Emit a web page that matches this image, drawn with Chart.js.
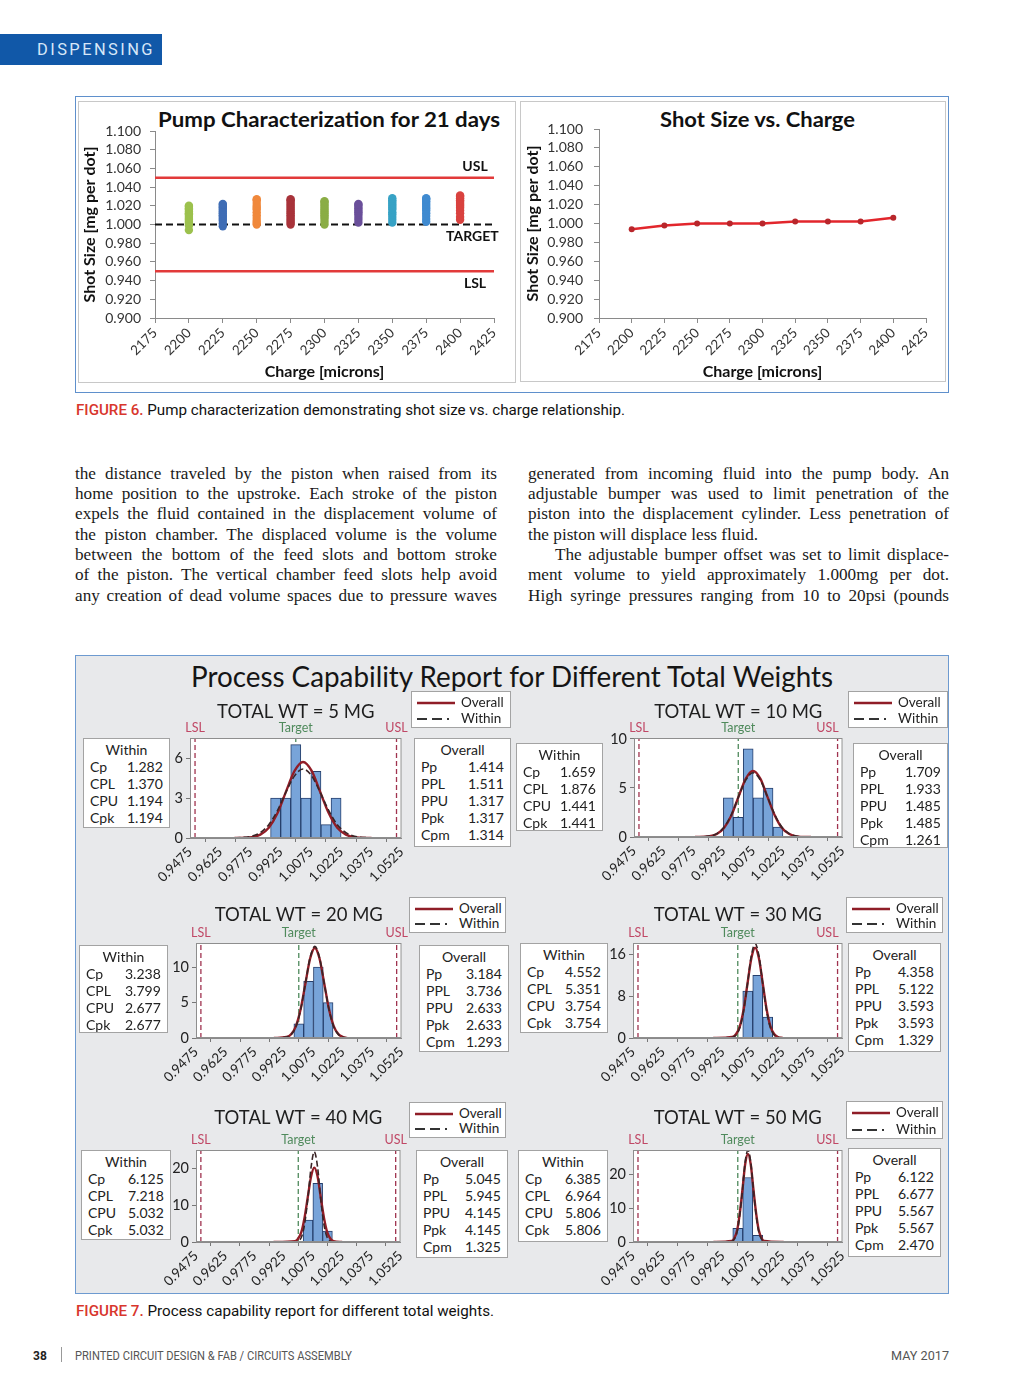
<!DOCTYPE html>
<html>
<head>
<meta charset="utf-8">
<title>Dispensing - shot size and process capability</title>
<script src="https://cdn.jsdelivr.net/npm/chart.js@4.4.1/dist/chart.umd.min.js"></script>
<style>
  body { margin: 0; background: #fff; }
  #page { position: relative; width: 1024px; height: 1392px; overflow: hidden; font-family: Roboto, sans-serif; color: #111; }
  .abs { position: absolute; }
  .fit { position: absolute; white-space: nowrap; }
  .fit span { display: inline-block; transform-origin: 0 50%; }
  .body-col { position: absolute; font: 17.2px "Liberation Serif", serif; line-height: 20.33px; color: #1a1a1a; }
  .body-col div { text-align: justify; text-align-last: justify; height: 20.33px; }
  .body-col div.last { text-align-last: left; }
  .box { position: absolute; background: #fff; border: 1px solid #a3a3a3; box-sizing: border-box; font: 14px Lato, sans-serif; color: #222; }
  .box .t { position: absolute; left: 0; right: 0; text-align: center; line-height: 18px; }
  .box .r { position: absolute; left: 6px; right: 6px; display: flex; justify-content: space-between; line-height: 18px; }
  .box .r span:last-child { width: 36px; text-align: left; }
  .leg { position: absolute; background: #fff; border: 1px solid #a3a3a3; box-sizing: border-box; font: 13.5px Lato, sans-serif; color: #222; }
  .leg .row { position: absolute; left: 4px; height: 17px; line-height: 17px; display: flex; align-items: center; }
  .leg svg { margin-right: 5px; }
</style>
</head>
<body>
<div id="page">
  <div class="abs" style="left:0;top:34px;width:162px;height:31px;background:#1158a8;"></div>
  <div class="fit" id="tabText" style="left:37px;top:40px;font:16px Roboto;color:#d7e7f8;letter-spacing:2.4px;line-height:19px;"><span>DISPENSING</span></div>

  <!-- Figure 6 -->
  <div class="abs" style="left:75px;top:96px;width:874px;height:297px;border:1.5px solid #5f90cc;box-sizing:border-box;background:#fff;"></div>
  <div class="abs" style="left:78px;top:101px;width:438px;height:282px;border:1px solid #c8c8c8;box-sizing:border-box;"></div>
  <div class="abs" style="left:520px;top:101px;width:426px;height:281px;border:1px solid #c8c8c8;box-sizing:border-box;"></div>
  <div class="fit" id="t6a" style="left:158px;top:106px;font:bold 21px Lato;line-height:25px;color:#111;"><span>Pump Characterization for 21 days</span></div>
  <div class="fit" id="t6b" style="left:660px;top:106px;font:bold 21px Lato;line-height:25px;color:#111;"><span>Shot Size vs. Charge</span></div>

  <div class="fit" id="cap6" style="left:76px;top:401px;font:14px Roboto;line-height:18px;"><span><b style="color:#d8362c;font-weight:500">FIGURE 6.</b> Pump characterization demonstrating shot size vs. charge relationship.</span></div>

  <div class="body-col" style="left:75px;top:463.8px;width:422px;">
    <div>the distance traveled by the piston when raised from its</div>
    <div>home position to the upstroke. Each stroke of the piston</div>
    <div>expels the fluid contained in the displacement volume of</div>
    <div>the piston chamber. The displaced volume is the volume</div>
    <div>between the bottom of the feed slots and bottom stroke</div>
    <div>of the piston. The vertical chamber feed slots help avoid</div>
    <div>any creation of dead volume spaces due to pressure waves</div>
  </div>
  <div class="body-col" style="left:528px;top:463.8px;width:421px;">
    <div>generated from incoming fluid into the pump body. An</div>
    <div>adjustable bumper was used to limit penetration of the</div>
    <div>piston into the displacement cylinder. Less penetration of</div>
    <div class="last">the piston will displace less fluid.</div>
    <div style="padding-left:27px;">The adjustable bumper offset was set to limit displace-</div>
    <div>ment volume to yield approximately 1.000mg per dot.</div>
    <div>High syringe pressures ranging from 10 to 20psi (pounds</div>
  </div>

  <!-- Figure 7 -->
  <div class="abs" style="left:75px;top:655px;width:874px;height:639px;border:1.5px solid #6d9ad0;box-sizing:border-box;background:#e8e9eb;"></div>
  <div class="fit" id="t7" style="left:191px;top:659px;font:29px Lato;line-height:34px;color:#151515;"><span>Process Capability Report for Different Total Weights</span></div>

  <div class="fit" id="cap7" style="left:76px;top:1302px;font:14px Roboto;line-height:18px;"><span><b style="color:#d8362c;font-weight:500">FIGURE 7.</b> Process capability report for different total weights.</span></div>

  <div class="abs" style="left:33px;top:1348px;font:bold 12px Roboto;line-height:16px;color:#222;">38</div>
  <div class="abs" style="left:61px;top:1347px;width:1px;height:15px;background:#999;"></div>
  <div class="fit" id="foot" style="left:75px;top:1348px;font:12.5px Roboto;line-height:16px;color:#555;"><span>PRINTED CIRCUIT DESIGN &amp; FAB / CIRCUITS ASSEMBLY</span></div>
  <div class="fit" id="month" style="left:891px;top:1348px;font:12.5px Roboto;line-height:16px;color:#555;"><span>MAY 2017</span></div>
</div>

<script>
// ---------- Figure 6 data ----------
const charges = [2200, 2225, 2250, 2275, 2300, 2325, 2350, 2375, 2400];
const xTicks6 = [2175, 2200, 2225, 2250, 2275, 2300, 2325, 2350, 2375, 2400, 2425];
const yTicks6 = [0.900, 0.920, 0.940, 0.960, 0.980, 1.000, 1.020, 1.040, 1.060, 1.080, 1.100];
const shots2200 = [0.994, 0.999, 1.001, 1.003, 1.005, 1.007, 1.009, 1.011, 1.012, 1.014, 1.016, 1.017, 1.019, 1.020];
const shots2225 = [0.998, 1.001, 1.004, 1.006, 1.008, 1.010, 1.012, 1.014, 1.016, 1.018, 1.019, 1.021, 1.022];
const shots2250 = [1.000, 1.002, 1.004, 1.007, 1.010, 1.013, 1.016, 1.018, 1.020, 1.023, 1.026, 1.027];
const shots2275 = [1.000, 1.002, 1.004, 1.006, 1.008, 1.010, 1.012, 1.014, 1.016, 1.018, 1.020, 1.022, 1.024, 1.026, 1.027];
const shots2300 = [1.000, 1.003, 1.006, 1.008, 1.010, 1.012, 1.014, 1.016, 1.018, 1.020, 1.022, 1.024, 1.025];
const shots2325 = [1.002, 1.005, 1.008, 1.011, 1.013, 1.015, 1.017, 1.019, 1.021, 1.022];
const shots2350 = [1.002, 1.005, 1.008, 1.011, 1.013, 1.016, 1.018, 1.020, 1.022, 1.024, 1.026, 1.028];
const shots2375 = [1.003, 1.006, 1.009, 1.012, 1.015, 1.017, 1.019, 1.021, 1.023, 1.025, 1.027, 1.028];
const shots2400 = [1.005, 1.008, 1.012, 1.015, 1.018, 1.020, 1.022, 1.024, 1.026, 1.028, 1.030, 1.031];
const shotMin = [0.994, 0.998, 1.000, 1.000, 1.000, 1.002, 1.002, 1.002, 1.006];
const usl6 = 1.050, target6 = 1.000, lsl6 = 0.950;

// ---------- Figure 7 data ----------
const xTicks7 = [0.9475, 0.9625, 0.9775, 0.9925, 1.0075, 1.0225, 1.0375, 1.0525];
const lsl7 = 0.95, target7 = 1.0, usl7 = 1.05;
const withinNames = ['Cp', 'CPL', 'CPU', 'Cpk'];
const overallNames = ['Pp', 'PPL', 'PPU', 'Ppk', 'Cpm'];

const bins5 = [0.990, 0.995, 1.000, 1.005, 1.010, 1.015, 1.020];
const counts5 = [3, 3, 7, 3, 5, 1, 3];
const curveX5 = [0.9696, 0.9781, 0.9824, 0.9866, 0.9909, 0.9951, 0.9994, 1.0036, 1.0079, 1.0121, 1.0164, 1.0206, 1.0249, 1.0291, 1.0376];
const overall5 = [0.00, 0.06, 0.25, 0.77, 1.85, 3.46, 5.03, 5.70, 5.03, 3.46, 1.85, 0.77, 0.25, 0.06, 0.00];
const within5 = [0.01, 0.13, 0.40, 1.00, 2.05, 3.43, 4.66, 5.17, 4.66, 3.43, 2.05, 1.00, 0.40, 0.13, 0.01];
const yTicks5 = [0, 3, 6];
const withinStats5 = [1.282, 1.370, 1.194, 1.194];
const overallStats5 = [1.414, 1.511, 1.317, 1.317, 1.314];

const bins10 = [0.995, 1.000, 1.005, 1.010, 1.015, 1.020];
const counts10 = [4, 2, 9, 4, 5, 1];
const curveX10 = [0.9782, 0.9855, 0.9892, 0.9928, 0.9965, 1.0001, 1.0038, 1.0074, 1.0111, 1.0147, 1.0184, 1.0220, 1.0257, 1.0293, 1.0366];
const overall10 = [0.00, 0.07, 0.30, 0.91, 2.19, 4.09, 5.96, 6.75, 5.96, 4.09, 2.19, 0.91, 0.30, 0.07, 0.00];
const within10 = [0.00, 0.09, 0.34, 0.99, 2.27, 4.09, 5.82, 6.55, 5.82, 4.09, 2.27, 0.99, 0.34, 0.09, 0.00];
const yTicks10 = [0, 5, 10];
const withinStats10 = [1.659, 1.876, 1.441, 1.441];
const overallStats10 = [1.709, 1.933, 1.485, 1.485, 1.261];

const bins20 = [1.000, 1.005, 1.010, 1.015];
const counts20 = [2, 8, 10, 5];
const curveX20 = [0.9873, 0.9938, 0.9962, 0.9986, 1.0010, 1.0034, 1.0058, 1.0082, 1.0106, 1.0130, 1.0154, 1.0178, 1.0202, 1.0226, 1.0246];
const overall20 = [0.00, 0.14, 0.56, 1.72, 4.12, 7.70, 11.21, 12.70, 11.21, 7.70, 4.12, 1.72, 0.56, 0.14, 0.00];
const within20 = [0.00, 0.12, 0.51, 1.63, 4.04, 7.70, 11.35, 12.92, 11.35, 7.70, 4.04, 1.63, 0.51, 0.12, 0.00];
const yTicks20 = [0, 5, 10];
const withinStats20 = [3.238, 3.799, 2.677, 2.677];
const overallStats20 = [3.184, 3.736, 2.633, 2.633, 1.293];

const bins30 = [1.005, 1.010, 1.015];
const counts30 = [9, 12, 4];
const curveX30 = [0.9877, 0.9973, 0.9992, 1.0011, 1.0030, 1.0049, 1.0068, 1.0087, 1.0106, 1.0125, 1.0144, 1.0163, 1.0182, 1.0201, 1.0225];
const overall30 = [0.00, 0.19, 0.76, 2.34, 5.62, 10.49, 15.27, 17.30, 15.27, 10.49, 5.62, 2.34, 0.76, 0.19, 0.00];
const within30 = [0.00, 0.13, 0.60, 2.04, 5.29, 10.48, 15.77, 18.07, 15.77, 10.48, 5.29, 2.04, 0.60, 0.13, 0.00];
const yTicks30 = [0, 8, 16];
const withinStats30 = [4.552, 5.351, 3.754, 3.754];
const overallStats30 = [4.358, 5.122, 3.593, 3.593, 1.329];

const bins40 = [1.005, 1.010, 1.015];
const counts40 = [6, 16, 3];
const curveX40 = [0.9873, 0.9983, 0.9999, 1.0016, 1.0032, 1.0049, 1.0066, 1.0082, 1.0099, 1.0115, 1.0132, 1.0148, 1.0165, 1.0181, 1.0225];
const overall40 = [0.00, 0.23, 0.89, 2.75, 6.59, 12.31, 17.91, 20.30, 17.91, 12.31, 6.59, 2.75, 0.89, 0.23, 0.00];
const within40 = [0.00, 0.03, 0.25, 1.29, 4.70, 11.80, 20.50, 24.64, 20.50, 11.80, 4.70, 1.29, 0.25, 0.03, 0.00];
const yTicks40 = [0, 10, 20];
const withinStats40 = [6.125, 7.218, 5.032, 5.032];
const overallStats40 = [5.045, 5.945, 4.145, 4.145, 1.325];

const bins50 = [1.000, 1.005, 1.010];
const counts50 = [4, 19, 2];
const curveX50 = [0.9878, 0.9970, 0.9983, 0.9997, 1.0010, 1.0024, 1.0037, 1.0051, 1.0065, 1.0078, 1.0092, 1.0105, 1.0119, 1.0132, 1.0230];
const overall50 = [0.00, 0.29, 1.14, 3.50, 8.41, 15.71, 22.86, 25.90, 22.86, 15.71, 8.41, 3.50, 1.14, 0.29, 0.00];
const within50 = [0.01, 0.20, 0.90, 3.07, 7.94, 15.67, 23.57, 27.01, 23.57, 15.67, 7.94, 3.07, 0.90, 0.20, 0.01];
const yTicks50 = [0, 10, 20];
const withinStats50 = [6.385, 6.964, 5.806, 5.806];
const overallStats50 = [6.122, 6.677, 5.567, 5.567, 2.470];

// ---------- helpers ----------
Chart.defaults.font.family = 'Lato, "Open Sans", sans-serif';
Chart.defaults.color = '#222';
Chart.defaults.animation = false;
Chart.defaults.events = [];
Chart.defaults.plugins.legend.display = false;
Chart.defaults.plugins.tooltip.enabled = false;

const page = document.getElementById('page');

function addCanvas(x, y, w, h) {
  const d = document.createElement('div');
  d.style.cssText = `position:absolute;left:${x}px;top:${y}px;width:${w}px;height:${h}px;`;
  const c = document.createElement('canvas');
  d.appendChild(c);
  page.appendChild(d);
  return c;
}

// text drawn at data positions / above the plot
const notes = {
  id: 'notes',
  afterDraw(chart, args, opts) {
    const {ctx, chartArea, scales} = chart;
    (opts.items || []).forEach(it => {
      const px = scales.x.getPixelForValue(it.x) + (it.dx || 0);
      const py = it.y !== undefined ? scales.y.getPixelForValue(it.y) + (it.dy || 0) : chartArea.top - it.above;
      ctx.save();
      ctx.font = it.font;
      ctx.fillStyle = it.color || '#111';
      ctx.textAlign = it.align || 'center';
      ctx.textBaseline = 'middle';
      ctx.fillText(it.text, px, py);
      ctx.restore();
    });
  }
};

// white plot background + frame
const plotBox = {
  id: 'plotBox',
  beforeDraw(chart, args, opts) {
    if (!opts.fill) return;
    const a = chart.chartArea, ctx = chart.ctx;
    ctx.save(); ctx.fillStyle = opts.fill; ctx.fillRect(a.left, a.top, a.width, a.height); ctx.restore();
  },
  afterDatasetsDraw(chart, args, opts) {
    if (!opts.stroke) return;
    const a = chart.chartArea, ctx = chart.ctx;
    ctx.save(); ctx.strokeStyle = opts.stroke; ctx.lineWidth = 1;
    ctx.strokeRect(a.left + 0.5, a.top + 0.5, a.width - 1, a.height - 1); ctx.restore();
  }
};

function tickList(arr) { return axis => { axis.ticks = arr.map(v => ({value: v})); }; }

// ---------- Figure 6, left ----------
const dayShots = [shots2200, shots2225, shots2250, shots2275, shots2300, shots2325, shots2350, shots2375, shots2400];
const dotColors = ['#9cc14d', '#3f6db5', '#f0883b', '#a8333a', '#8aad45', '#6a4f9a', '#37a2c5', '#3f8ad0', '#d9423f'];

function hLine(v, color, dash, w) {
  return {type: 'scatter', showLine: true, pointRadius: 0, borderColor: color, borderWidth: w, borderDash: dash,
    data: [{x: xTicks6[0], y: v}, {x: xTicks6[xTicks6.length - 1], y: v}]};
}

function axes6(yw, xh, yPad, xTitlePad) {
  return {
    x: {
      type: 'linear', min: xTicks6[0], max: xTicks6[xTicks6.length - 1],
      afterBuildTicks: tickList(xTicks6),
      ticks: {maxRotation: 45, minRotation: 45, autoSkip: false, font: {size: 13.5}, color: '#333', padding: 2, callback: v => v},
      grid: {drawOnChartArea: false, drawTicks: true, tickLength: 5, color: '#8a8a8a'},
      border: {color: '#8a8a8a'},
      title: {display: true, text: 'Charge [microns]', font: {size: 16, weight: 'bold'}, color: '#111', padding: {top: 0, bottom: xTitlePad}},
      afterFit: s => { s.height = xh; }
    },
    y: {
      min: 0.9, max: 1.1,
      afterBuildTicks: tickList(yTicks6),
      ticks: {autoSkip: false, font: {size: 14}, color: '#333', padding: yPad, callback: v => v.toFixed(3)},
      grid: {drawOnChartArea: false, drawTicks: true, tickLength: 5, color: '#8a8a8a'},
      border: {color: '#8a8a8a'},
      title: {display: true, text: 'Shot Size [mg per dot]', font: {size: 16, weight: 'bold'}, color: '#111', padding: {top: 0, bottom: 0}},
      afterFit: s => { s.width = yw; }
    }
  };
}

new Chart(addCanvas(79, 102, 436, 280), {
  type: 'scatter',
  data: {
    datasets: [
      ...charges.map((c, i) => ({
        data: dayShots[i].map(v => ({x: c, y: v})),
        backgroundColor: dotColors[i], borderWidth: 0, pointRadius: 4.2
      })),
      hLine(target6, '#111', [7, 4], 2),
      hLine(usl6, '#e23a3a', [], 2.5),
      hLine(lsl6, '#e23a3a', [], 2.5)
    ]
  },
  options: {
    responsive: true, maintainAspectRatio: false,
    layout: {padding: {left: 1, top: 29, right: 21, bottom: 0}},
    scales: axes6(75, 64, 9, 1),
    plugins: {
      notes: {items: [
        {text: 'USL', x: 2411, y: usl6, dy: -11, font: 'bold 14px Lato'},
        {text: 'TARGET', x: 2409, y: target6, dy: 12, font: 'bold 14px Lato'},
        {text: 'LSL', x: 2411, y: lsl6, dy: 12, font: 'bold 14px Lato'}
      ]}
    }
  },
  plugins: [notes]
});

// ---------- Figure 6, right ----------
new Chart(addCanvas(521, 102, 424, 279), {
  type: 'scatter',
  data: {
    datasets: [{
      showLine: true,
      data: charges.map((c, i) => ({x: c, y: shotMin[i]})),
      borderColor: '#e2262c', borderWidth: 2.5,
      pointRadius: 3, pointBackgroundColor: '#b8262b', pointBorderWidth: 0
    }]
  },
  options: {
    responsive: true, maintainAspectRatio: false,
    layout: {padding: {left: 2, top: 27, right: 19, bottom: 0}},
    scales: axes6(76, 63, 11, 0)
  }
});

// ---------- Figure 7 panels ----------
const panels = [
  {title: 'TOTAL WT = 5 MG', bins: bins5, counts: counts5, cx: curveX5, ov: overall5, wi: within5, yt: yTicks5, ymax: 7.5,
   ws: withinStats5, os: overallStats5, plot: [190, 738, 405, 838], gap: 26, uslAlign: 'center',
   within: [83, 738, 87, 90], overall: [414, 738, 97, 109], legend: [411, 691, 100, 37]},
  {title: 'TOTAL WT = 10 MG', bins: bins10, counts: counts10, cx: curveX10, ov: overall10, wi: within10, yt: yTicks10, ymax: 10.1,
   ws: withinStats10, os: overallStats10, plot: [634, 738, 846, 837], gap: 26, uslAlign: 'right',
   within: [516, 743, 87, 88], overall: [853, 743, 95, 105], legend: [848, 691, 100, 37]},
  {title: 'TOTAL WT = 20 MG', bins: bins20, counts: counts20, cx: curveX20, ov: overall20, wi: within20, yt: yTicks20, ymax: 13.4,
   ws: withinStats20, os: overallStats20, plot: [196, 943, 405, 1038], gap: 28, uslAlign: 'center',
   within: [79, 945, 89, 88], overall: [419, 945, 90, 107], legend: [409, 897, 97, 36]},
  {title: 'TOTAL WT = 30 MG', bins: bins30, counts: counts30, cx: curveX30, ov: overall30, wi: within30, yt: yTicks30, ymax: 18.2,
   ws: withinStats30, os: overallStats30, plot: [633, 943, 846, 1038], gap: 28, uslAlign: 'right',
   within: [520, 943, 88, 90], overall: [848, 943, 93, 109], legend: [846, 897, 97, 36]},
  {title: 'TOTAL WT = 40 MG', bins: bins40, counts: counts40, cx: curveX40, ov: overall40, wi: within40, yt: yTicks40, ymax: 25.1,
   ws: withinStats40, os: overallStats40, plot: [196, 1150, 404, 1242], gap: 32, uslAlign: 'center',
   within: [81, 1150, 90, 90], overall: [416, 1150, 92, 108], legend: [409, 1102, 97, 36]},
  {title: 'TOTAL WT = 50 MG', bins: bins50, counts: counts50, cx: curveX50, ov: overall50, wi: within50, yt: yTicks50, ymax: 27.1,
   ws: withinStats50, os: overallStats50, plot: [633, 1150, 846, 1242], gap: 32, uslAlign: 'right',
   within: [518, 1150, 90, 92], overall: [848, 1148, 93, 109], legend: [846, 1101, 97, 38]}
];

function vLine(v, ymax, color) {
  return {type: 'line', data: [{x: v, y: 0}, {x: v, y: ymax}], borderColor: color, borderWidth: 1.3,
    borderDash: [5, 3], pointRadius: 0, clip: false};
}

function statBox(rect, title, names, values) {
  const [x, y, w, h] = rect;
  const d = document.createElement('div');
  d.className = 'box';
  d.style.cssText = `left:${x}px;top:${y}px;width:${w}px;height:${h}px;`;
  let html = `<div class="t" style="top:2px">${title}</div>`;
  names.forEach((n, i) => {
    html += `<div class="r" style="top:${18.5 + i * 17}px"><span>${n}</span><span>${values[i].toFixed(3)}</span></div>`;
  });
  d.innerHTML = html;
  page.appendChild(d);
}

function legendBox(rect) {
  const [x, y, w, h] = rect;
  const d = document.createElement('div');
  d.className = 'leg';
  d.style.cssText = `left:${x}px;top:${y}px;width:${w}px;height:${h}px;`;
  d.innerHTML =
    `<div class="row" style="top:2px"><svg width="40" height="8"><line x1="1" y1="4" x2="39" y2="4" stroke="#8f1d27" stroke-width="2.6"/></svg>Overall</div>` +
    `<div class="row" style="top:${h - 19}px"><svg width="40" height="8"><line x1="1" y1="4" x2="39" y2="4" stroke="#333" stroke-width="1.8" stroke-dasharray="10 5 10 5 2 6"/></svg>Within</div>`;
  page.appendChild(d);
}

panels.forEach(p => {
  const [x1, y1, x2, y2] = p.plot;
  const yw = 24, padL = 36, padT = 42, padR = 10, xh = 52;
  const cv = addCanvas(x1 - yw - padL, y1 - padT, (x2 + padR) - (x1 - yw - padL), (y2 + xh) - (y1 - padT));
  new Chart(cv, {
    type: 'bar',
    data: {
      datasets: [
        {type: 'line', data: p.cx.map((v, i) => ({x: v, y: p.wi[i]})), borderColor: '#3a2426', borderWidth: 1.6,
         borderDash: [6, 3], pointRadius: 0, cubicInterpolationMode: 'monotone'},
        {type: 'line', data: p.cx.map((v, i) => ({x: v, y: p.ov[i]})), borderColor: '#921d27', borderWidth: 2.4,
         pointRadius: 0, cubicInterpolationMode: 'monotone'},
        {type: 'bar', data: p.bins.map((v, i) => ({x: v, y: p.counts[i]})), backgroundColor: '#78a4d9',
         borderColor: '#263f6c', borderWidth: 1, barPercentage: 1, categoryPercentage: 1},
        vLine(lsl7, p.ymax, '#a0334f'),
        vLine(target7, p.ymax, '#4f8a5c'),
        vLine(usl7, p.ymax, '#a0334f')
      ]
    },
    options: {
      responsive: true, maintainAspectRatio: false,
      layout: {padding: {left: padL, top: padT, right: padR, bottom: 0}},
      scales: {
        x: {
          type: 'linear', min: xTicks7[0], max: xTicks7[xTicks7.length - 1], offset: false,
          afterBuildTicks: tickList(xTicks7),
          ticks: {maxRotation: 45, minRotation: 45, autoSkip: false, font: {size: 13.5}, color: '#222', padding: 2,
                  callback: v => v.toFixed(4)},
          grid: {drawOnChartArea: false, drawTicks: true, tickLength: 4, color: '#777'},
          border: {color: '#8a8a8a'},
          afterFit: s => { s.height = xh; }
        },
        y: {
          min: 0, max: p.ymax,
          afterBuildTicks: tickList(p.yt),
          ticks: {autoSkip: false, font: {size: 14.5}, color: '#222', padding: 3},
          grid: {drawOnChartArea: false, drawTicks: true, tickLength: 4, color: '#777'},
          border: {color: '#8a8a8a'},
          afterFit: s => { s.width = yw; }
        }
      },
      plugins: {
        plotBox: {fill: '#fff', stroke: '#8e8e8e'},
        notes: {items: [
          {text: p.title, x: target7, above: p.gap, font: '18.5px Lato', color: '#1e1e1e'},
          {text: 'LSL', x: lsl7, above: 10, font: '12.5px Lato', color: '#c04866'},
          {text: 'Target', x: target7, above: 10, font: '12.5px Lato', color: '#4f8a5c'},
          {text: 'USL', x: usl7, above: 10, font: '12.5px Lato', color: '#c04866', align: p.uslAlign,
           dx: p.uslAlign === 'right' ? 1 : 0}
        ]}
      }
    },
    plugins: [plotBox, notes]
  });
  statBox(p.within, 'Within', withinNames, p.ws);
  statBox(p.overall, 'Overall', overallNames, p.os);
  legendBox(p.legend);
});

// ---------- fit headline widths to the reference ----------
function fitWidth(id, w) {
  const s = document.getElementById(id).firstElementChild;
  const r = w / s.getBoundingClientRect().width;
  s.style.transform = `scaleX(${r})`;
}
fitWidth('tabText', 118);
fitWidth('t6a', 342);
fitWidth('t6b', 195);
fitWidth('t7', 642);
fitWidth('cap6', 549);
fitWidth('cap7', 418);
fitWidth('foot', 277);
fitWidth('month', 58);
</script>
</body>
</html>
